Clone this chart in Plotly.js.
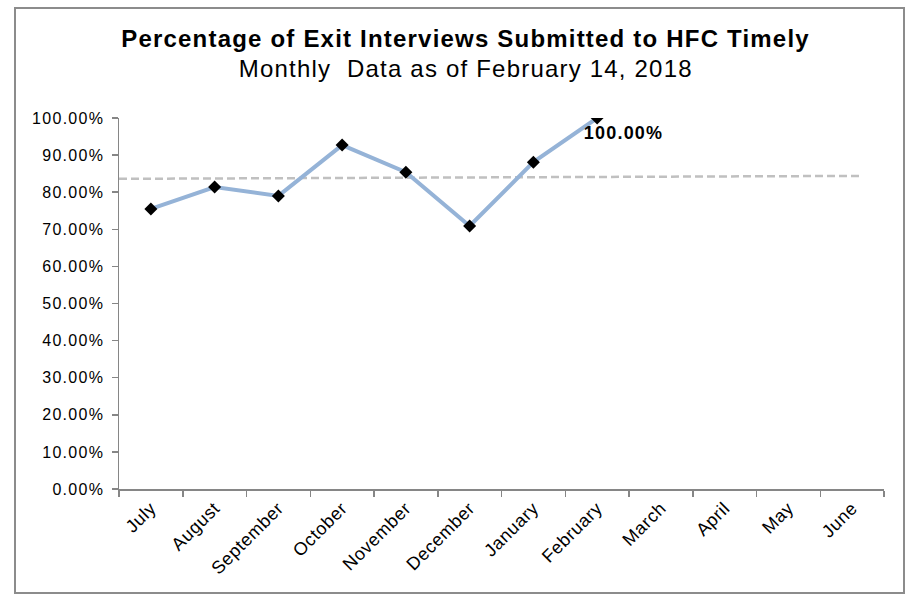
<!DOCTYPE html>
<html>
<head>
<meta charset="utf-8">
<script src="https://cdn.plot.ly/plotly-3.0.1.min.js"></script>
<style>
  html, body { margin: 0; padding: 0; background: #ffffff; }
  #chart { width: 906px; height: 595px; }
  #chart .annotation-text { letter-spacing: 1.2px; }
  #chart .ytick text { letter-spacing: 1.3px; }
  #chart .xtick text { letter-spacing: 0.6px; }
</style>
</head>
<body>
<div id="chart"></div>
<script>
// ---- data ----
const titleText = "Percentage of Exit Interviews Submitted to HFC Timely";
const subtitleText = "Monthly  Data as of February 14, 2018";
const months = ["July", "August", "September", "October", "November", "December",
                "January", "February", "March", "April", "May", "June"];
const percentTimely = [75.5, 81.4, 79.0, 92.7, 85.4, 70.9, 88.1, 100.0];
const referenceLineX = [-0.5, 11.17];
const referenceLineY = [83.6, 84.4];
const yTickValues = [0, 10, 20, 30, 40, 50, 60, 70, 80, 90, 100];
const labelIndex = 7;
const labelText = "100.00%";

const monthPositions = months.map((m, i) => i);
const dataPositions = percentTimely.map((v, i) => i);

const traces = [
  {
    x: referenceLineX,
    y: referenceLineY,
    mode: "lines",
    line: { color: "#C0C0C0", width: 2.5, dash: "8px,4px" },
    hoverinfo: "skip",
    showlegend: false
  },
  {
    x: dataPositions,
    y: percentTimely,
    mode: "lines+markers",
    line: { color: "#95B3D7", width: 4 },
    marker: { symbol: "diamond", size: 10, color: "#000000" },
    showlegend: false
  }
];

const FONT = "Liberation Sans, Arial, sans-serif";

const layout = {
  width: 906,
  height: 595,
  margin: { l: 119, r: 22, t: 118, b: 106 },
  paper_bgcolor: "#ffffff",
  plot_bgcolor: "#ffffff",
  font: { family: FONT, color: "#000000" },
  xaxis: {
    type: "linear",
    range: [-0.5, 11.5],
    tickmode: "array",
    tickvals: monthPositions,
    ticktext: months,
    tickangle: -45,
    ticks: "",
    tickfont: { size: 18, color: "#000000" },
    showgrid: false,
    zeroline: false,
    showline: true,
    linecolor: "#868686",
    linewidth: 1.5,
    minor: { tick0: -0.5, dtick: 1, ticks: "outside", ticklen: 6, tickcolor: "#868686", tickwidth: 1.5, showgrid: false },
    fixedrange: true
  },
  yaxis: {
    range: [0, 100],
    tickmode: "array",
    tickvals: yTickValues,
    ticktext: yTickValues.map(v => v.toFixed(2) + "%"),
    ticks: "outside",
    ticklen: 6,
    tickcolor: "#868686",
    tickwidth: 1.5,
    ticklabelstandoff: 4,
    tickfont: { size: 16, color: "#000000" },
    showgrid: false,
    zeroline: false,
    showline: true,
    linecolor: "#868686",
    linewidth: 1.5,
    fixedrange: true
  },
  annotations: [
    {
      x: (466 - 119) / 765,
      y: (489 - 38) / 371,
      xref: "paper",
      yref: "paper",
      text: "<b>" + titleText + "</b>",
      showarrow: false,
      xanchor: "center",
      yanchor: "middle",
      font: { family: FONT, size: 24, color: "#000000" }
    },
    {
      x: (466 - 119) / 765,
      y: (489 - 68) / 371,
      xref: "paper",
      yref: "paper",
      text: subtitleText,
      showarrow: false,
      xanchor: "center",
      yanchor: "middle",
      font: { family: FONT, size: 24, color: "#000000" }
    },
    {
      x: labelIndex,
      y: percentTimely[labelIndex],
      xref: "x",
      yref: "y",
      text: "<b>" + labelText + "</b>",
      showarrow: false,
      xanchor: "left",
      yanchor: "top",
      xshift: -11,
      yshift: -3,
      font: { family: FONT, size: 18, color: "#000000" }
    }
  ],
  shapes: [
    {
      type: "rect",
      xref: "paper",
      yref: "paper",
      x0: (15 - 119) / 765,
      x1: (904 - 119) / 765,
      y0: (489 - 593) / 371,
      y1: (489 - 8) / 371,
      line: { color: "#8C8C8C", width: 2 },
      fillcolor: "rgba(0,0,0,0)",
      layer: "below"
    }
  ]
};

Plotly.newPlot("chart", traces, layout, { displayModeBar: false, staticPlot: true });
</script>
</body>
</html>
